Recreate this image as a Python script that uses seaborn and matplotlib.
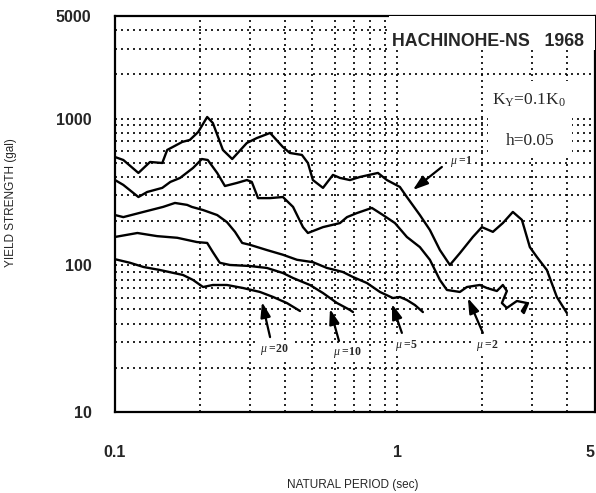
import numpy as np
import pandas as pd
import matplotlib
matplotlib.use("Agg")
import matplotlib.pyplot as plt
from matplotlib.patches import Rectangle
from matplotlib.ticker import LogLocator, NullFormatter, FixedLocator
import seaborn as sns

# ---------------- data ----------------
mu1_T = [0.100, 0.107, 0.121, 0.133, 0.147, 0.153, 0.173, 0.184, 0.197, 0.212, 0.222,
         0.241, 0.260, 0.293, 0.318, 0.354, 0.393, 0.416, 0.459, 0.482, 0.502, 0.545,
         0.591, 0.626, 0.679, 0.737, 0.853, 0.918, 1.020, 1.080, 1.201, 1.303, 1.414,
         1.534, 1.664, 1.850, 1.991, 2.178, 2.362, 2.563, 2.759, 2.944, 3.117, 3.382,
         3.669, 3.981]
mu1_S = [547, 522, 426, 506, 498, 611, 693, 715, 810, 1025, 933,
         611, 530, 682, 737, 798, 640, 583, 565, 498, 381, 337,
         413, 394, 381, 400, 426, 381, 342, 292, 220, 174, 127,
         100.5, 121, 156, 182, 169, 194, 231, 204, 133, 114, 92.9,
         60.8, 47.3]

mu2_T = [0.100, 0.107, 0.121, 0.130, 0.147, 0.157, 0.170, 0.189, 0.203, 0.213, 0.230,
         0.245, 0.270, 0.293, 0.305, 0.321, 0.354, 0.393, 0.427, 0.463, 0.482, 0.545,
         0.626, 0.663, 0.719, 0.812, 0.889, 0.980, 1.080, 1.201, 1.303, 1.414, 1.497,
         1.664, 1.762, 1.959, 2.074, 2.250, 2.362, 2.441, 2.344, 2.441, 2.649, 2.873,
         2.759, 2.804, 2.900]
mu2_S = [381, 353, 292, 316, 337, 370, 394, 461, 530, 522, 426,
         347, 364, 381, 370, 287, 287, 292, 250, 182, 166, 182,
         194, 213, 227, 246, 220, 194, 156, 133, 109, 79.4, 67.9,
         65.8, 71.1, 73.4, 70.0, 66.8, 73.4, 66.8, 55.3, 51.2, 57.1, 55.3,
         48.8, 47.3, 55.3]

mu5_T = [0.100, 0.107, 0.126, 0.148, 0.163, 0.180, 0.187, 0.205, 0.230, 0.249, 0.266,
         0.282, 0.300, 0.345, 0.393, 0.441, 0.502, 0.563, 0.641, 0.696, 0.780, 0.867,
         0.964, 1.020, 1.080, 1.153, 1.231]
mu5_S = [220, 213, 231, 250, 266, 258, 250, 238, 220, 197, 169,
         142, 138, 127, 118, 109, 105, 95.9, 90.0, 83.2, 75.7, 65.8,
         59.8, 60.8, 58.0, 53.6, 48.0]

mu10_T = [0.100, 0.120, 0.141, 0.166, 0.195, 0.212, 0.222, 0.235, 0.255, 0.300, 0.345,
          0.393, 0.427, 0.490, 0.545, 0.611, 0.679, 0.696]
mu10_S = [156, 166, 158, 154, 144, 142, 123, 104, 100.5, 98.9, 95.9,
          88.6, 81.9, 73.4, 64.7, 55.3, 49.6, 48.0]

mu20_T = [0.100, 0.113, 0.126, 0.144, 0.174, 0.189, 0.205, 0.222, 0.249, 0.284, 0.326,
          0.363, 0.406, 0.452]
mu20_S = [110, 104, 97.4, 92.9, 85.9, 79.4, 71.1, 73.4, 73.4, 70.0, 65.8,
          60.8, 55.3, 48.8]

series = {"1": (mu1_T, mu1_S), "2": (mu2_T, mu2_S), "5": (mu5_T, mu5_S),
          "10": (mu10_T, mu10_S), "20": (mu20_T, mu20_S)}

x_ticks = [0.1, 1, 5]
x_ticklabels = ["0.1", "1", "5"]
y_ticks = [10, 100, 1000, 5000]
y_ticklabels = ["10", "100", "1000", "5000"]

# labels: (text, label position, arrow tail, arrow tip) in data units
mu_labels = [
    ("1",  (1.69, 506), (1.437, 468), (1.134, 326)),
    ("20", (0.368, 26.5), (0.354, 32.4), (0.3315, 56.2)),
    ("10", (0.663, 25.6), (0.621, 30.5), (0.577, 50.4)),
    ("5",  (1.08, 28.6), (1.037, 34.6), (0.956, 54.5)),
    ("2",  (2.09, 28.6), (2.007, 34.6), (1.776, 59.8)),
]

rows = []
for mu, (T, S) in series.items():
    for i, (t, s) in enumerate(zip(T, S)):
        rows.append({"mu": mu, "T": t, "S": s, "i": i})
df = pd.DataFrame(rows)

# ---------------- figure ----------------
sns.set_style("white")
plt.rcParams["font.family"] = ["Liberation Sans", "DejaVu Sans"]
plt.rcParams["mathtext.fontset"] = "custom"
plt.rcParams["mathtext.rm"] = "Liberation Serif"
plt.rcParams["mathtext.it"] = "Liberation Serif:italic"

fig = plt.figure(figsize=(5.96, 4.93), dpi=100)
ax = fig.add_axes([0.193, 0.1643, 0.805, 0.8032])

ax.set_xscale("log")
ax.set_yscale("log")

sns.lineplot(data=df, x="T", y="S", hue="mu", palette=["black"] * 5,
             sort=False, estimator=None, legend=False, linewidth=1.7, ax=ax,
             zorder=5)

ax.set_xlim(0.1, 5)
ax.set_ylim(10, 5000)

ax.xaxis.set_major_locator(FixedLocator(x_ticks))
ax.set_xticklabels(x_ticklabels, fontweight="bold")
ax.yaxis.set_major_locator(FixedLocator(y_ticks))
ax.set_yticklabels(y_ticklabels, fontweight="bold")
ax.xaxis.set_minor_locator(LogLocator(base=10, subs=np.arange(2, 10)))
ax.yaxis.set_minor_locator(LogLocator(base=10, subs=np.arange(2, 10)))
ax.xaxis.set_minor_formatter(NullFormatter())
ax.yaxis.set_minor_formatter(NullFormatter())

gridkw = dict(color="black", linestyle=(0, (1.2, 2.4)), linewidth=1.2)
ax.grid(True, which="both", **gridkw)
ax.set_axisbelow(True)

ax.tick_params(which="both", length=0)
ax.tick_params(axis="x", pad=24, labelsize=11.5)
ax.tick_params(axis="y", pad=17, labelsize=11.5)
xt = ax.get_xticklabels()
xt[-1].set_horizontalalignment("right")

for sp in ax.spines.values():
    sp.set_color("black")
    sp.set_linewidth(1.6)

ax.set_xlabel("NATURAL PERIOD (sec)", fontsize=8.5)
ax.set_ylabel("YIELD STRENGTH (gal)", fontsize=8.5)
ax.xaxis.set_label_coords(0.496, -0.168)
ax.yaxis.set_label_coords(-0.205, 0.53)

# white boxes under title texts (axes fraction)
ax.add_patch(Rectangle((0.57, 0.915), 0.43, 0.085, transform=ax.transAxes,
                       facecolor="white", edgecolor="none", zorder=3))
ax.add_patch(Rectangle((0.777, 0.645), 0.176, 0.19, transform=ax.transAxes,
                       facecolor="white", edgecolor="none", zorder=3))

ax.text(0.778, 0.935, "HACHINOHE-NS   1968", transform=ax.transAxes,
        ha="center", va="center", fontsize=12.8, fontweight="bold", zorder=6)
ax.text(0.862, 0.786, r"K$_\mathrm{Y}$=0.1K$_\mathrm{0}$", transform=ax.transAxes,
        ha="center", va="center", fontsize=12.5, family="Liberation Serif", zorder=6)
ax.text(0.865, 0.685, "h=0.05", transform=ax.transAxes,
        ha="center", va="center", fontsize=12.5, family="Liberation Serif", zorder=6)

for txt, lab, tail, tip in mu_labels:
    ax.text(lab[0], lab[1], r"$\mu$ =" + txt, ha="center", va="center",
            fontsize=8.5, fontweight="bold", family="Liberation Serif", zorder=6,
            bbox=dict(facecolor="white", edgecolor="none", pad=1.0))
    ax.annotate("", xy=tip, xytext=tail,
                arrowprops=dict(arrowstyle="-|>,head_length=0.9,head_width=0.3",
                                color="black", lw=1.6, shrinkA=0, shrinkB=0),
                zorder=6)

fig.savefig("out.png", dpi=100)
